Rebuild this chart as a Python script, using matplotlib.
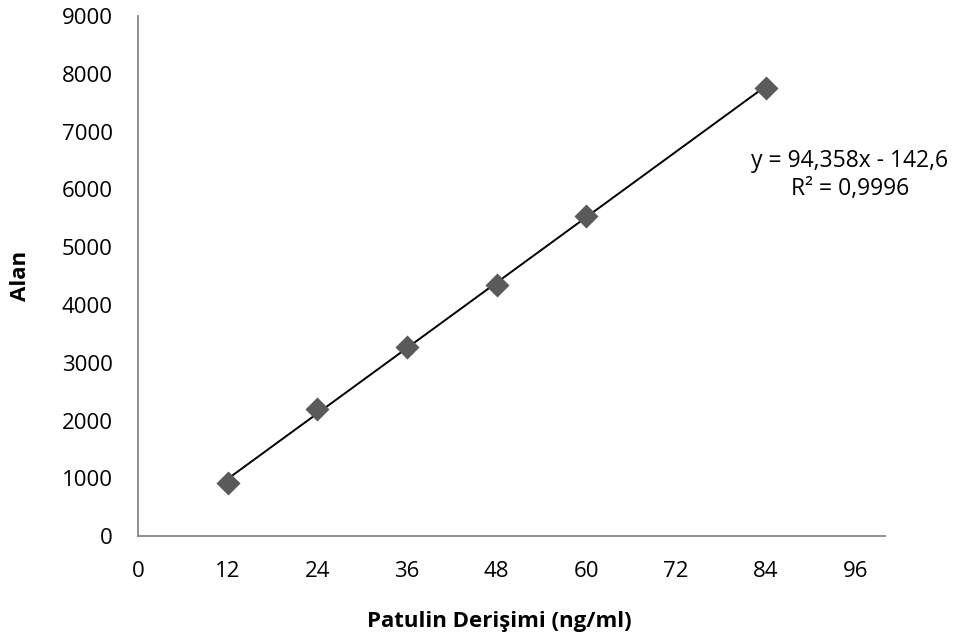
import numpy as np
import matplotlib.pyplot as plt

plt.rcParams['font.family'] = ['Open Sans', 'DejaVu Sans']

# concentration (ng/ml) and peak area
conc = [12, 24, 36, 48, 60, 84]
area = [924, 2204, 3280, 4350, 5545, 7751]
slope, intercept = 94.358, -142.6
xticks = [0, 12, 24, 36, 48, 60, 72, 84, 96]
yticks = [0, 1000, 2000, 3000, 4000, 5000, 6000, 7000, 8000, 9000]

fig = plt.figure(figsize=(9.58, 6.39), dpi=100)
ax = fig.add_axes([0.144, 0.161, 0.78, 0.814])

xfit = np.array([conc[0], conc[-1]])
ax.plot(xfit, slope * xfit + intercept, color='black', lw=1.4, zorder=2)
ax.scatter(conc, area, marker='D', s=150, color='#5a5a5a', zorder=3, linewidths=0)

ax.set_xlim(0, 100)
ax.set_ylim(0, 9000)
ax.set_xticks(xticks)
ax.set_yticks(yticks)
ax.tick_params(length=0, labelsize=16)
ax.tick_params(axis='x', pad=18)
ax.tick_params(axis='y', pad=18)
for s in ['top', 'right']:
    ax.spines[s].set_visible(False)
for s in ['left', 'bottom']:
    ax.spines[s].set_color('#878787')
    ax.spines[s].set_linewidth(1.3)

fig.text(21 / 958, 1 - 276 / 639, 'Alan', rotation=90, ha='center', va='center',
         fontsize=16, fontweight='bold')
fig.text(499 / 958, 1 - 622 / 639, 'Patulin Derişimi (ng/ml)', ha='center', va='center',
         fontsize=16, fontweight='bold')
fig.text(850 / 958, 1 - 175 / 639, 'y = 94,358x - 142,6\nR² = 0,9996', ha='center',
         va='center', multialignment='center', fontsize=16.5, linespacing=1.2)

fig.savefig('out.png', dpi=100)
